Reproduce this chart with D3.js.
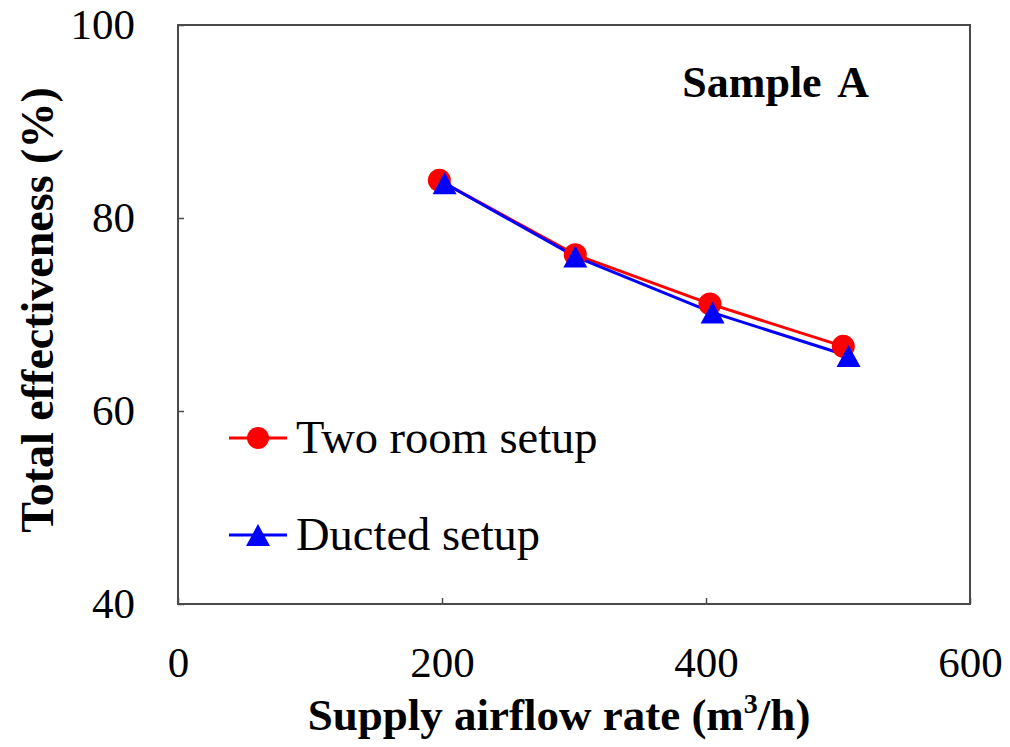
<!DOCTYPE html>
<html>
<head>
<meta charset="utf-8">
<script src="https://cdn.jsdelivr.net/npm/d3@7"></script>
<style>
  body { margin: 0; background: #fff; }
  svg { font-family: "Liberation Serif", "Times New Roman", serif; }
</style>
</head>
<body>
<svg width="1010" height="747"></svg>
<script>
"use strict";

// data
var twoRoomX = [198, 301, 403, 504],
    twoRoomY = [83.9, 76.2, 71.1, 66.7];
var ductedX = [202, 301, 405, 508],
    ductedY = [83.6, 76.0, 70.2, 65.7];
var xTicks = [0, 200, 400, 600],
    yTicks = [40, 60, 80, 100];

window.onload = renderMyChart;

function renderMyChart() {
    var svg = d3.select("svg"),
        margin = { top: 25, right: 40, bottom: 143, left: 178 },
        width = +svg.attr("width") - margin.left - margin.right,
        height = +svg.attr("height") - margin.top - margin.bottom;

    var x = d3.scaleLinear().domain([0, 600]).range([0, width]),
        y = d3.scaleLinear().domain([40, 100]).range([height, 0]);

    var g = svg.append("g")
        .attr("transform", "translate(" + margin.left + "," + margin.top + ")");

    var frameColor = "#4a4a4a";

    // axes with small inside ticks
    var xAxis = g.append("g")
        .attr("transform", "translate(0," + height + ")")
        .call(d3.axisBottom(x).tickValues(xTicks).tickSize(-6).tickPadding(42));
    var yAxis = g.append("g")
        .call(d3.axisLeft(y).tickValues(yTicks).tickSize(-6).tickPadding(43));

    [xAxis, yAxis].forEach(function (a) {
        a.select(".domain").remove();
        a.selectAll("line").attr("stroke", frameColor).attr("stroke-width", 1.5);
        a.selectAll("text")
            .attr("fill", "#000")
            .style("font-family", "'Liberation Serif', serif")
            .style("font-size", "43px");
    });

    // frame
    g.append("rect")
        .attr("x", 0).attr("y", 0)
        .attr("width", width).attr("height", height)
        .attr("fill", "none")
        .attr("stroke", frameColor)
        .attr("stroke-width", 2);

    var tri = "M0,-11L12,11L-12,11Z";

    var series = [
        { name: "Two room setup", xs: twoRoomX, ys: twoRoomY, color: "#ff0000", marker: "circle" },
        { name: "Ducted setup", xs: ductedX, ys: ductedY, color: "#0000ff", marker: "triangle" }
    ];

    var line = d3.line()
        .x(function (d) { return x(d[0]); })
        .y(function (d) { return y(d[1]); });

    series.forEach(function (s) {
        var pts = s.xs.map(function (v, i) { return [v, s.ys[i]]; });
        g.append("path")
            .datum(pts)
            .attr("fill", "none")
            .attr("stroke", s.color)
            .attr("stroke-width", 3)
            .attr("d", line);
        s.pts = pts;
    });

    series.forEach(function (s) {
        if (s.marker === "circle") {
            g.selectAll(".m-circle")
                .data(s.pts)
                .enter().append("circle")
                .attr("cx", function (d) { return x(d[0]); })
                .attr("cy", function (d) { return y(d[1]); })
                .attr("r", 11.5)
                .attr("fill", s.color);
        } else {
            g.selectAll(".m-tri")
                .data(s.pts)
                .enter().append("path")
                .attr("d", tri)
                .attr("transform", function (d) { return "translate(" + x(d[0]) + "," + y(d[1]) + ")"; })
                .attr("fill", s.color);
        }
    });

    // legend
    var legendY = [438, 535];
    series.forEach(function (s, i) {
        var lg = svg.append("g").attr("transform", "translate(229," + legendY[i] + ")");
        lg.append("line")
            .attr("x1", 0).attr("x2", 58)
            .attr("stroke", s.color).attr("stroke-width", 3);
        if (s.marker === "circle") {
            lg.append("circle").attr("cx", 29).attr("r", 11).attr("fill", s.color);
        } else {
            lg.append("path").attr("d", tri).attr("transform", "translate(29,0)").attr("fill", s.color);
        }
        lg.append("text")
            .attr("x", 67).attr("y", 15)
            .style("font-size", "46.5px")
            .text(s.name);
    });

    // panel label
    svg.append("text")
        .attr("x", 869).attr("y", 97)
        .attr("text-anchor", "end")
        .style("font-size", "44px")
        .style("font-weight", "bold")
        .style("word-spacing", "7px")
        .text("Sample A");

    // axis titles
    var xt = svg.append("text")
        .attr("x", 559).attr("y", 730)
        .attr("text-anchor", "middle")
        .style("font-size", "45px")
        .style("font-weight", "bold");
    xt.append("tspan").text("Supply airflow rate (m");
    xt.append("tspan").attr("dy", -17).style("font-size", "28px").text("3");
    xt.append("tspan").attr("dy", 17).text("/h)");

    svg.append("text")
        .attr("transform", "translate(53,310) rotate(-90)")
        .attr("text-anchor", "middle")
        .style("font-size", "46px")
        .style("font-weight", "bold")
        .text("Total effectiveness (%)");
}
</script>
</body>
</html>
